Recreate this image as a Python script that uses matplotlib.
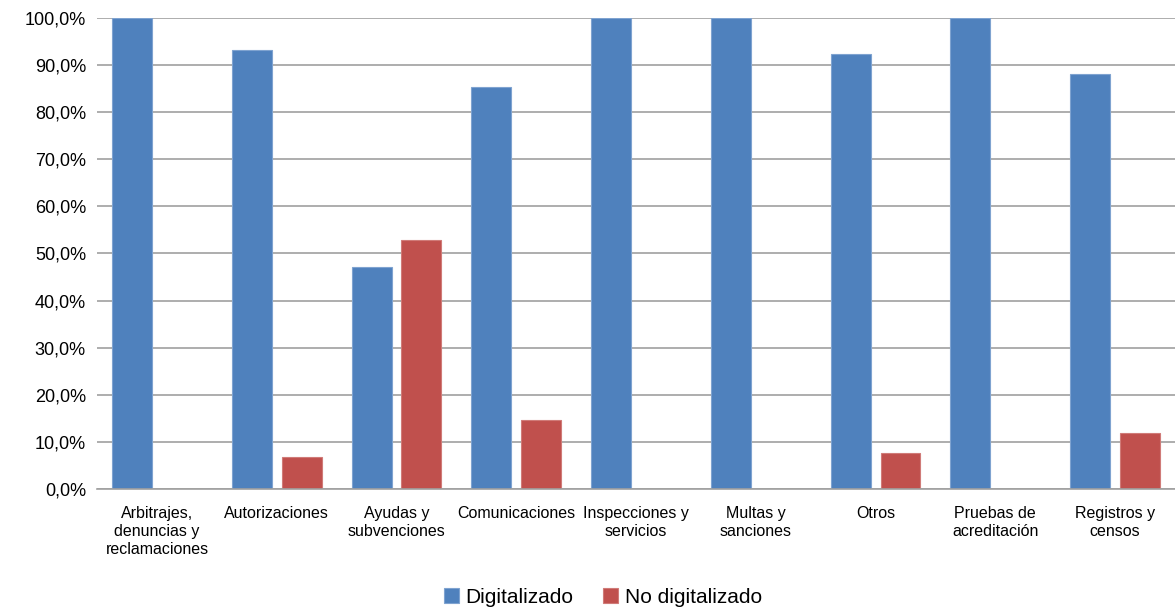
import numpy as np
import matplotlib
matplotlib.use("Agg")
import matplotlib.pyplot as plt
from matplotlib.ticker import FuncFormatter

# Datos
categorias = ["Arbitrajes,\ndenuncias y\nreclamaciones", "Autorizaciones", "Ayudas y\nsubvenciones",
              "Comunicaciones", "Inspecciones y\nservicios", "Multas y\nsanciones", "Otros",
              "Pruebas de\nacreditación", "Registros y\ncensos"]
digitalizado = [100.0, 93.3, 47.2, 85.4, 100.0, 100.0, 92.3, 100.0, 88.1]
no_digitalizado = [0.0, 6.7, 52.8, 14.6, 0.0, 0.0, 7.7, 0.0, 11.9]
yticks = np.arange(0, 101, 10)

plt.rcParams['font.family'] = ['Liberation Sans', 'DejaVu Sans']

fig = plt.figure(figsize=(11.75, 6.12), dpi=100)
ax = fig.add_axes([0.0826, 0.201, 0.9174, 0.7696])

x = np.arange(len(categorias))
ancho = 0.333
ax.bar(x - 0.208, digitalizado, ancho, color='#4F81BD', edgecolor='#7FA3D0', linewidth=0.8,
       label='Digitalizado', zorder=3)
ax.bar(x + 0.208, no_digitalizado, ancho, color='#C0504D', edgecolor='#D07B78', linewidth=0.8,
       label='No digitalizado', zorder=3)

ax.set_xlim(-0.5, len(categorias) - 0.5)
ax.set_ylim(0, 100)
ax.set_yticks(yticks)
ax.yaxis.set_major_formatter(FuncFormatter(lambda v, p: f"{v:.1f}%".replace('.', ',')))
ax.yaxis.grid(True, color='#A0A0A0', linewidth=1.2, zorder=0)
ax.set_axisbelow(True)

ax.set_xticks(x)
ax.set_xticklabels(categorias, fontsize=11.5, linespacing=1.25, va='top')
ax.tick_params(axis='x', length=0, pad=12)
ax.tick_params(axis='y', length=0, pad=8, labelsize=13)

for lado in ['top', 'right', 'left']:
    ax.spines[lado].set_visible(False)
ax.spines['bottom'].set_color('#A0A0A0')
ax.spines['bottom'].set_linewidth(1.2)
ax.spines['bottom'].set_zorder(4)

fig.legend(loc='lower center', bbox_to_anchor=(0.513, -0.022), ncol=2, frameon=False,
           fontsize=15, handlelength=0.75, handleheight=0.75, handletextpad=0.3,
           columnspacing=1.4)

fig.savefig("out.png", dpi=100)
